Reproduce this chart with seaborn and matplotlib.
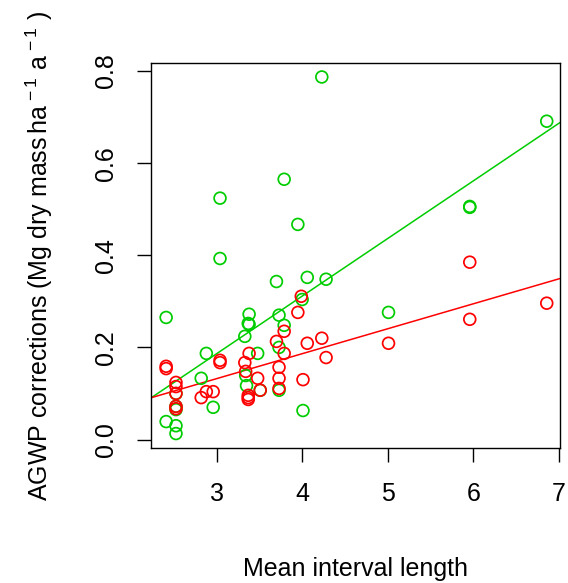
import numpy as np
import pandas as pd
import matplotlib
matplotlib.use("Agg")
import matplotlib.pyplot as plt
import seaborn as sns

# Mean interval length (x) and AGWP corrections (y) for the two correction types
green_x = [2.41, 2.41, 2.525, 2.525, 2.525, 2.525, 2.525, 2.82, 2.88, 2.96,
           3.04, 3.04, 3.38, 3.37, 3.38, 3.33, 3.34, 3.35, 3.48, 3.51,
           3.70, 3.79, 3.73, 3.79, 3.73, 3.73, 3.95, 4.06, 4.00, 4.01,
           4.23, 4.28, 5.01, 5.96, 5.96, 6.86]
green_y = [0.265, 0.039, 0.100, 0.072, 0.065, 0.030, 0.013, 0.133, 0.187, 0.070,
           0.524, 0.393, 0.272, 0.252, 0.250, 0.224, 0.139, 0.117, 0.187, 0.107,
           0.343, 0.565, 0.270, 0.248, 0.200, 0.107, 0.467, 0.352, 0.304, 0.063,
           0.787, 0.348, 0.276, 0.504, 0.506, 0.691]

red_x = [2.41, 2.41, 2.525, 2.525, 2.525, 2.525, 2.525, 2.82, 2.88, 2.96,
         3.04, 3.04, 3.38, 3.33, 3.34, 3.37, 3.37, 3.37, 3.48, 3.51,
         3.79, 3.70, 3.79, 3.73, 3.73, 3.73, 3.99, 3.95, 4.06, 4.01,
         4.23, 4.28, 5.01, 5.96, 5.96, 6.86]
red_y = [0.159, 0.154, 0.124, 0.115, 0.100, 0.072, 0.067, 0.091, 0.104, 0.104,
         0.172, 0.167, 0.187, 0.167, 0.148, 0.096, 0.091, 0.087, 0.133, 0.107,
         0.235, 0.213, 0.187, 0.157, 0.133, 0.111, 0.311, 0.276, 0.209, 0.130,
         0.220, 0.178, 0.209, 0.385, 0.261, 0.296]

x_ticks = [3, 4, 5, 6, 7]
y_ticks = [0.0, 0.2, 0.4, 0.6, 0.8]
y_tick_labels = ["0.0", "0.2", "0.4", "0.6", "0.8"]

GREEN = "#00CD00"
RED = "#FF0000"

sns.set_style("white")
plt.rcParams["font.family"] = ["Liberation Sans", "DejaVu Sans"]
plt.rcParams["mathtext.fontset"] = "custom"
plt.rcParams["mathtext.rm"] = "Liberation Sans"
plt.rcParams["mathtext.it"] = "Liberation Sans"
plt.rcParams["mathtext.default"] = "regular"
plt.rcParams["text.color"] = "black"
plt.rcParams["axes.labelcolor"] = "black"
plt.rcParams["xtick.color"] = "black"
plt.rcParams["ytick.color"] = "black"

fig = plt.figure(figsize=(5.68, 5.83), dpi=100)
ax = fig.add_axes([151 / 568, 1 - 448.3 / 583, (560 - 151) / 568, (448.3 - 62.7) / 583])
ax.set_xlim(2.233, 7.015)
ax.set_ylim(-0.019, 0.818)

green = pd.DataFrame({"x": green_x, "y": green_y})
red = pd.DataFrame({"x": red_x, "y": red_y})

for df, col in [(green, GREEN), (red, RED)]:
    sns.scatterplot(data=df, x="x", y="y", ax=ax, s=72, marker="o",
                    facecolors="none", edgecolor=col, linewidth=1.25, zorder=3)
    sns.regplot(data=df, x="x", y="y", ax=ax, scatter=False, ci=None,
                truncate=False, color=col, line_kws={"linewidth": 1.1})

ax.set_xlim(2.233, 7.015)
ax.set_ylim(-0.019, 0.818)

for s in ax.spines.values():
    s.set_color("black")
    s.set_linewidth(1.0)
    s.set_visible(True)

ax.set_xticks(x_ticks)
ax.set_xticklabels([str(t) for t in x_ticks])
ax.set_yticks(y_ticks)
ax.set_yticklabels(y_tick_labels, rotation=90, va="center")
ax.tick_params(axis="both", direction="out", length=10, width=1.0,
               color="black", labelcolor="black", labelsize=18, pad=14,
               bottom=True, left=True, top=False, right=False)

ax.set_xlabel("Mean interval length", fontsize=18, labelpad=37, color="black")
ax.set_ylabel(r"AGWP corrections (Mg dry mass$\,$ha$^{\,-1}$ a$^{\,-1}$ )",
              fontsize=18, labelpad=28, color="black")

fig.savefig("out.png", dpi=100)
